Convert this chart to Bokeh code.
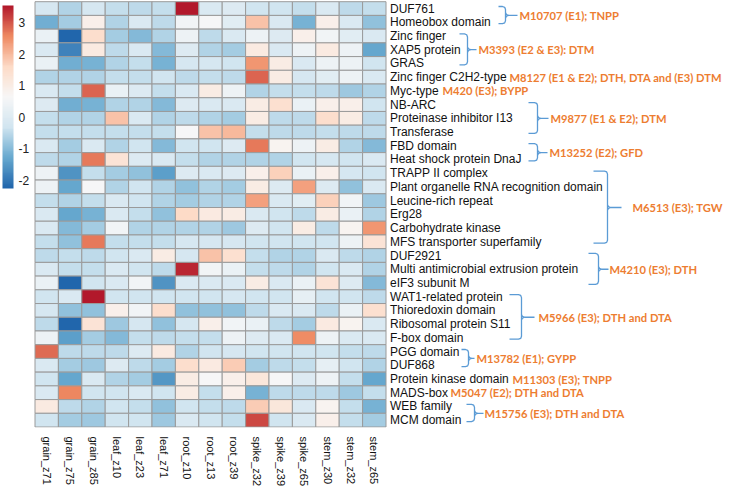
import math
import numpy as np
from bokeh.plotting import figure
from bokeh.models import ColumnDataSource, LinearColorMapper, ColorBar, FixedTicker, Range1d
from bokeh.core.properties import value
from bokeh.embed import file_html
from bokeh.resources import INLINE

# ---------------- data ----------------
samples = ["grain_z71", "grain_z75", "grain_z85", "leaf_z10", "leaf_z23", "leaf_z71",
           "root_z10", "root_z13", "root_z39", "spike_z32", "spike_z39", "spike_z65",
           "stem_z30", "stem_z32", "stem_z65"]

genes = ["DUF761", "Homeobox domain", "Zinc finger", "XAP5 protein", "GRAS",
         "Zinc finger C2H2-type", "Myc-type", "NB-ARC", "Proteinase inhibitor I13",
         "Transferase", "FBD domain", "Heat shock protein DnaJ", "TRAPP II complex",
         "Plant organelle RNA recognition domain", "Leucine-rich repeat", "Erg28",
         "Carbohydrate kinase", "MFS transporter superfamily", "DUF2921",
         "Multi antimicrobial extrusion protein", "eIF3 subunit M", "WAT1-related protein",
         "Thioredoxin domain", "Ribosomal protein S11", "F-box domain", "PGG domain",
         "DUF868", "Protein kinase domain", "MADS-box", "WEB family", "MCM domain"]

z_scores = [
    [-0.2, -0.6, -0.2, -0.4, -0.5, -0.4, 3.5, -0.1, 0.0, -0.3, -0.3, -0.4, -0.1, -0.5, -0.4],
    [-1.2, -0.7, 0.9, -0.6, -0.1, -0.5, 0.5, 0.6, 0.1, 1.9, -0.1, -1.1, 0.9, -0.1, -0.9],
    [0.3, -2.3, 1.5, -0.7, -1.0, -0.6, 0.4, -0.5, -0.1, 0.4, 0.0, 0.9, 0.5, 0.1, -0.1],
    [-0.1, -1.8, 1.1, -0.5, -0.1, -1.0, 0.0, -0.6, -0.7, 1.1, -0.1, 0.4, 1.1, 0.4, -1.3],
    [0.3, -1.2, -1.1, -0.6, -0.4, -1.1, -0.2, -0.2, -0.3, 2.4, 1.0, -0.1, 0.4, 0.4, -0.3],
    [-0.6, -0.6, -0.6, -0.4, -0.4, -0.3, -0.5, -0.4, -0.5, 2.9, 1.0, -0.2, 0.1, 0.4, -0.1],
    [-0.1, -0.4, 2.9, 0.3, 0.0, -0.4, -0.1, 1.0, 0.4, -0.6, -0.4, -0.4, -0.5, -0.8, -0.6],
    [0.0, -1.2, -1.1, -0.6, -0.6, -1.0, 0.0, -0.1, -0.1, 1.0, 1.4, 0.3, 0.9, 0.9, -0.3],
    [-0.4, -0.6, -0.6, 1.9, -0.1, -0.6, -0.5, -0.6, -0.7, 1.0, -0.5, -0.5, 1.5, 1.0, -0.5],
    [-0.4, -0.4, -0.4, -0.4, -0.4, -0.4, 0.6, 1.9, 2.0, -0.4, -0.5, -0.5, -0.4, -0.5, -0.5],
    [-0.1, -0.7, -0.1, -0.6, -0.3, -1.0, -0.3, -0.3, 0.0, 2.7, 0.8, 0.4, 1.0, -0.6, -1.0],
    [-0.5, -0.6, 2.7, 1.3, 0.0, -0.1, -0.4, -0.6, -0.6, -0.6, -0.6, -0.3, -0.2, -0.3, -0.1],
    [0.4, -1.6, -0.4, -0.7, -0.9, -1.4, 0.0, -0.1, 0.0, 0.9, 1.7, 0.3, 0.9, -0.2, -0.3],
    [0.4, -1.3, 0.6, -0.6, -0.3, -0.6, -0.9, -0.6, -0.7, 1.0, 0.0, 2.3, 0.0, -0.9, -0.1],
    [-0.4, -0.6, -0.4, -0.1, -0.3, -0.6, -0.7, -0.6, -0.6, 2.3, -0.1, 0.1, 1.7, 0.5, -0.8],
    [-0.1, -1.3, -1.1, -0.1, -0.4, -0.9, 1.6, 1.1, 1.0, -0.1, -0.3, -0.5, 1.0, 0.3, -0.6],
    [-0.1, -1.0, -0.7, 0.5, -0.6, -0.6, -0.6, -0.6, -0.8, 0.0, -0.3, 1.0, -0.5, 0.8, 2.4],
    [-0.4, -0.9, 2.7, -0.4, -0.4, -0.4, -0.2, -0.2, -0.2, -0.3, -0.3, -0.3, -0.3, 0.4, 1.3],
    [-0.5, -0.4, -0.5, -0.3, -0.1, 1.0, -0.2, 1.9, 1.4, -0.4, -0.6, -0.6, -0.1, -0.5, -0.6],
    [-0.1, -0.4, -0.4, -0.1, -0.3, -0.5, 3.4, 0.5, 0.3, -0.4, -0.5, -0.6, -0.3, -0.1, -0.6],
    [0.3, -2.2, -0.3, -0.1, 0.5, -1.6, -0.1, -0.1, -0.1, 1.0, -0.1, 0.3, 1.3, 0.0, -1.0],
    [-0.3, -0.1, 3.5, -0.3, -0.3, -0.3, -0.3, -0.3, -0.2, -0.3, -0.3, 0.2, -0.3, -0.3, -0.5],
    [-0.2, -0.9, -0.9, 0.9, 0.5, 1.5, -0.9, -0.9, -0.9, -0.5, -0.1, -0.1, -0.5, 0.3, 1.4],
    [-0.5, -2.2, 1.3, -0.8, -0.2, -0.9, -0.2, 0.9, 0.5, 0.3, -0.5, -0.7, 1.1, 0.8, -0.1],
    [0.4, -1.4, -0.7, -1.0, -0.4, -0.5, -0.4, -0.4, 0.4, 0.0, -0.1, 2.5, 0.4, -0.1, -0.1],
    [2.8, -0.5, -0.5, -0.5, 0.0, 1.1, -0.6, -0.3, -0.2, -0.3, -0.3, -0.3, -0.3, -0.4, -0.5],
    [-0.1, -0.7, -0.8, 0.0, -0.5, -0.7, 1.5, 1.1, 1.8, -0.7, -0.5, -0.4, 0.2, -0.3, -0.6],
    [-0.3, -1.3, -0.1, -0.6, -0.7, -1.5, 1.0, 0.6, 0.9, 1.2, 0.6, 0.0, 0.4, -0.4, -1.3],
    [-0.1, 2.6, -0.3, -0.3, -0.1, -0.3, 1.0, -0.4, 0.9, -1.1, -0.5, -0.5, -0.5, -0.8, -0.4],
    [1.1, -0.5, -0.6, -0.3, -0.4, -0.9, -0.3, -0.4, -0.5, 1.8, 1.2, -0.1, 0.8, -0.4, -1.1],
    [-0.3, -0.7, -0.8, -0.3, -0.3, -0.8, -0.1, -0.3, -0.4, 3.1, -0.3, -0.1, 0.9, -0.4, -0.7],
]

colorbar_ticks = [-2, -1, 0, 1, 2, 3]
colorbar_tick_labels = ["-2", "-1", "0", "1", "2", "3"]

module_labels = ["M10707 (E1); TNPP", "M3393 (E2 & E3): DTM",
                 "M8127  (E1 & E2); DTH, DTA  and (E3) DTM", "M420 (E3); BYPP",
                 "M9877 (E1 & E2); DTM", "M13252 (E2); GFD", "M6513 (E3); TGW",
                 "M4210 (E3); DTH", "M5966 (E3); DTH and DTA", "M13782 (E1); GYPP",
                 "M11303 (E3); TNPP", "M5047 (E2); DTH and DTA", "M15756 (E3); DTH and DTA"]
module_first = [0, 2, 5, 6, 7, 10, 12, 18, 21, 25, 27, 28, 29]
module_last = [1, 4, 5, 6, 9, 11, 17, 20, 24, 26, 27, 28, 30]

# ---------------- styling / layout (figure pixels) ----------------
FW, FH = 730, 427
CW = 23.4                       # px per column
RH = 13.72                      # px per row
HEAT_LEFT = 34.5                # heatmap left edge, px
HEAT_TOP = 1.2                  # heatmap top edge, px
n_rows = len(genes)
n_cols = len(samples)

def fx(px):                      # px -> data x
    return (px - HEAT_LEFT) / CW - 0.5

def dyp(px):                     # px -> data y distance
    return px / RH

y_top = (n_rows - 0.5) + HEAT_TOP / RH
y_bot = y_top - FH / RH

# bracket geometry per module (px): hook start, vertical, tick end, text x ; None = no bracket
br_hook = [498, 459, None, None, 528, 528, 593, 588, 509, 461, None, None, 466]
br_vert = [505, 467, None, None, 537, 537, 607, 598, 521, 468, None, None, 474]
br_tick = [517, 476, None, None, 548, 547, 621, 608, 534, 474, None, None, 483]
txt_x = [519, 478, 509, 442, 550, 549, 632, 609, 538, 476, 512, 450, 484]

rdbu7 = ["#2166ac", "#67a9cf", "#d1e5f0", "#f7f7f7", "#fddbc7", "#ef8a62", "#b2182b"]

def interp_palette(colors, n):
    rgb = np.array([[int(c[i:i + 2], 16) for i in (1, 3, 5)] for c in colors], float)
    pos = np.linspace(0, 1, len(colors))
    out = []
    for t in np.linspace(0, 1, n):
        out.append("#%02x%02x%02x" % tuple(int(round(np.interp(t, pos, rgb[:, k]))) for k in range(3)))
    return out

palette = interp_palette(rdbu7, 100)
mapper = LinearColorMapper(palette=palette, low=-2.25, high=3.54)

p = figure(frame_width=FW, frame_height=FH, output_backend="svg", toolbar_location=None,
           x_range=Range1d(fx(0), fx(FW)), y_range=Range1d(y_bot, y_top),
           y_axis_location=None, min_border_left=0, min_border_right=0,
           min_border_top=0, min_border_bottom=0)
p.outline_line_color = None
p.xgrid.visible = False
p.ygrid.visible = False

# heatmap cells
xs, ys, vs = [], [], []
for i, row in enumerate(z_scores):
    for j, v in enumerate(row):
        xs.append(j)
        ys.append(n_rows - 1 - i)
        vs.append(v)
src = ColumnDataSource(dict(x=xs, y=ys, v=vs))
p.rect(x="x", y="y", width=1, height=1, source=src,
       fill_color={"field": "v", "transform": mapper},
       line_color="#9a9a9a", line_width=1)

# x axis labels
ax = p.xaxis[0]
ax.ticker = FixedTicker(ticks=list(range(n_cols)))
ax.major_label_overrides = {j: s for j, s in enumerate(samples)}
ax.major_label_orientation = -math.pi / 2
ax.axis_line_color = None
ax.major_tick_line_color = None
ax.minor_tick_line_color = None
ax.major_label_standoff = 3
ax.major_label_text_font = "Liberation Sans"
ax.major_label_text_font_size = "11px"
ax.major_label_text_color = "#111111"

# row labels
label_x = fx(HEAT_LEFT + n_cols * CW + 4)
p.text(x=[label_x] * n_rows, y=[n_rows - 1 - i for i in range(n_rows)], text=genes,
       text_font=value("Liberation Sans"), text_font_size=value("12px"),
       text_color="#111111", text_baseline="middle", text_align="left")

# brackets + module labels
bx, by = [], []
tx, ty = [], []
for k in range(len(module_labels)):
    yt_c = n_rows - 1 - module_first[k]
    yb_c = n_rows - 1 - module_last[k]
    ymid = (yt_c + yb_c) / 2
    tx.append(fx(txt_x[k]))
    ty.append(ymid)
    if br_hook[k] is None:
        continue
    yt = yt_c + 0.15
    yb = yb_c - 0.1
    h, v, t = br_hook[k], br_vert[k], br_tick[k]
    bx.append([fx(h), fx(v - 3), fx(v - 0.8), fx(v), fx(v), fx(v - 0.8), fx(v - 3), fx(h)])
    by.append([yt, yt, yt - dyp(0.8), yt - dyp(3), yb + dyp(3), yb + dyp(0.8), yb, yb])
    bx.append([fx(v), fx(v + 1), fx(v + 3), fx(t)])
    by.append([ymid + dyp(2.5), ymid + dyp(0.8), ymid, ymid])
    bx.append([fx(v), fx(v + 1), fx(v + 3)])
    by.append([ymid - dyp(2.5), ymid - dyp(0.8), ymid])
p.multi_line(xs=bx, ys=by, line_color="#5b9bd5", line_width=1.3)
p.text(x=tx, y=ty, text=module_labels, text_font=value("Lato"), text_font_style="bold",
       text_font_size=value("11.2px"), text_color="#ed7d31", text_baseline="middle",
       text_align="left")

# colour bar
cb = ColorBar(color_mapper=mapper, location=(2, FH - 188), width=11, height=183,
              padding=0, ticker=FixedTicker(ticks=colorbar_ticks),
              major_label_overrides={t: s for t, s in zip(colorbar_ticks, colorbar_tick_labels)},
              major_tick_line_color=None, minor_tick_line_color=None,
              label_standoff=5, bar_line_color=None, border_line_color=None,
              background_fill_alpha=0,
              major_label_text_font="Liberation Sans",
              major_label_text_font_size="12px", major_label_text_color="#222222")
p.add_layout(cb, "center")

open("out.html", "w").write(file_html(p, INLINE))
